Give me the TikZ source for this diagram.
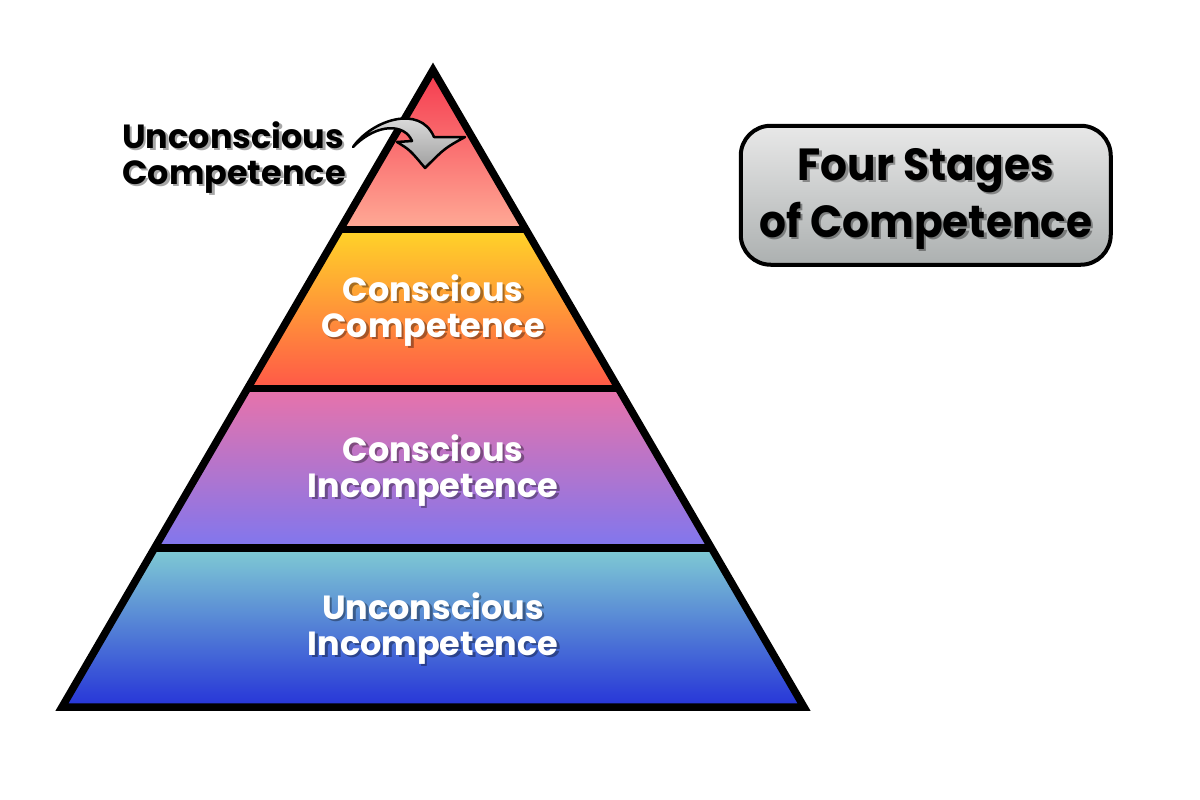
\documentclass[tikz,border=0pt]{standalone}
\usepackage{fontspec}
\setmainfont{Poppins}
\newfontfamily\titlefont{Poppins}[FakeStretch=0.94]
\usetikzlibrary{calc}

\definecolor{tipTop}{RGB}{245,58,78}
\definecolor{tipBot}{RGB}{255,170,150}
\definecolor{ccTop}{RGB}{255,212,40}
\definecolor{ccBot}{RGB}{255,88,72}
\definecolor{ciTop}{RGB}{232,115,170}
\definecolor{ciBot}{RGB}{128,118,238}
\definecolor{uiTop}{RGB}{128,204,212}
\definecolor{uiBot}{RGB}{38,52,216}
\definecolor{boxTop}{RGB}{232,232,232}
\definecolor{boxBot}{RGB}{172,176,176}

\tikzset{
	pyramid line/.style={line width=7.5pt, line join=miter},
	stagetext/.style={font=\bfseries\fontsize{33.5}{36}\selectfont, align=center, anchor=base, inner sep=0pt},
	sidetext/.style={stagetext, align=left, anchor=base west},
	titletext/.style={stagetext, font=\titlefont\bfseries\fontsize{45}{57}\selectfont},
	titlebox/.style={draw, line width=4pt, rounded corners=30pt, minimum width=370pt, minimum height=139pt, top color=boxTop, bottom color=boxBot},
	turnarrow/.style={draw, line width=2.5pt, line join=round, top color=white!92!black, bottom color=gray!75}
}

% label with a soft drop shadow: name, style, position, colour, text
\newcommand{\shadowlabel}[5]{%
	\node[#2, text=black, text opacity=.35, xshift=2.5pt, yshift=-2.5pt] (#1s) at (#3) {#5};
	\node[#2, text=#4] (#1) at (#3) {#5};
}

\begin{document}
\begin{tikzpicture}[x=1pt,y=-1pt]
	\useasboundingbox (0,0) rectangle (1200,800);
	\coordinate (apex) at (433,70);
	\coordinate (bl) at (62,707);
	\coordinate (br) at (804,707);
	\foreach \f [count=\i] in {0.25,0.5,0.75}{
		\coordinate (l\i) at ($(apex)!\f!(bl)$);
		\coordinate (r\i) at ($(apex)!\f!(br)$);
	}
	% layers
	\shade[top color=tipTop, bottom color=tipBot] (apex) -- (l1) -- (r1) -- cycle;
	\shade[top color=ccTop, bottom color=ccBot] (l1) -- (l2) -- (r2) -- (r1) -- cycle;
	\shade[top color=ciTop, bottom color=ciBot] (l2) -- (l3) -- (r3) -- (r2) -- cycle;
	\shade[top color=uiTop, bottom color=uiBot] (l3) -- (bl) -- (br) -- (r3) -- cycle;
	\draw[pyramid line] (l1) -- (r1) (l2) -- (r2) (l3) -- (r3);
	\draw[pyramid line] (apex) -- (bl) -- (br) -- cycle;
	% stage names
	\shadowlabel{cc}{stagetext}{433,337}{white}{Conscious\\Competence}
	\shadowlabel{ci}{stagetext}{433,497}{white}{Conscious\\Incompetence}
	\shadowlabel{ui}{stagetext}{433,655}{white}{Unconscious\\Incompetence}
	\shadowlabel{uc}{sidetext}{122,184}{black}{Unconscious\\Competence}
	% curved arrow into the tip
	\path[turnarrow] (353,147) .. controls (372,120) and (420,104) .. (434,137)
		-- (465,137) .. controls (445,148) .. (425,168)
		.. controls (410,150) .. (397,142) -- (412,141)
		.. controls (405,124) and (378,122) .. (353,147) -- cycle;
	% title
	\node[titlebox] (box) at (925.75,195.25) {};
	\shadowlabel{title}{titletext}{925.75,237}{black}{Four Stages\\of Competence}
\end{tikzpicture}
\end{document}
